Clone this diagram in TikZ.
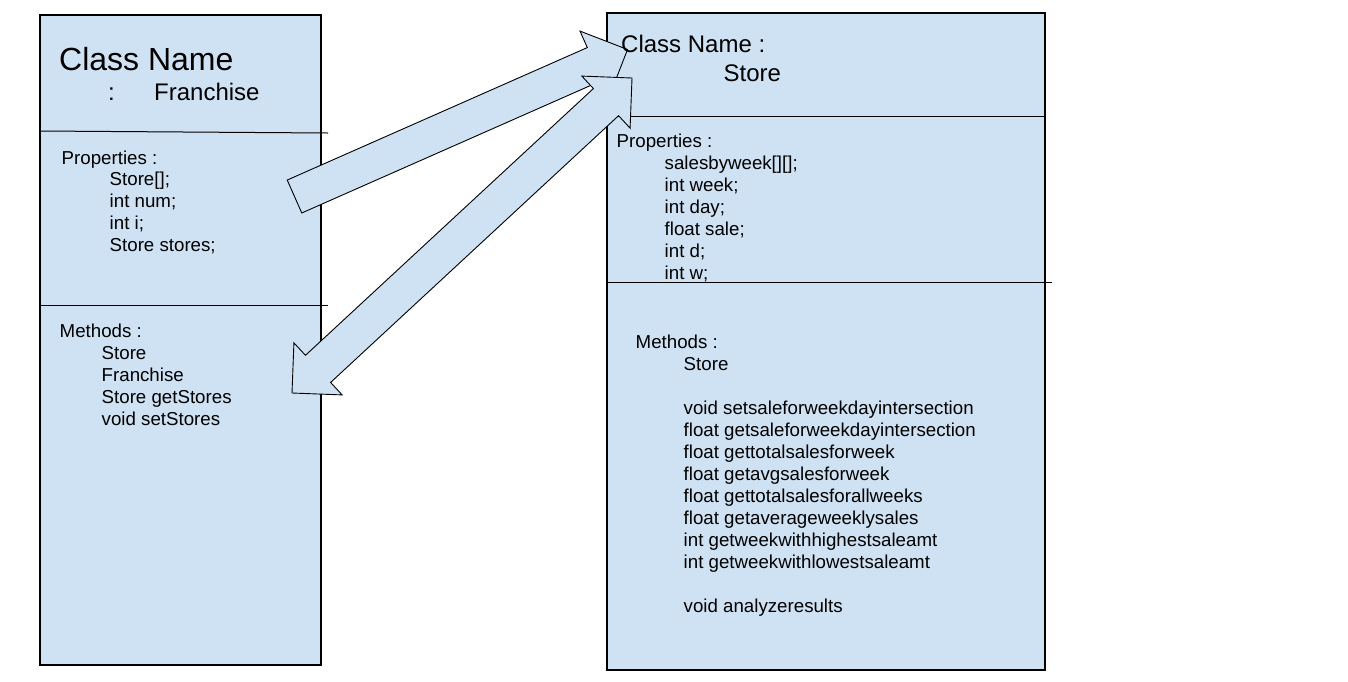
\documentclass[tikz,border=0pt]{standalone}
\usepackage{fontspec}
\setmainfont{Liberation Sans}
\usetikzlibrary{calc}
\definecolor{boxfill}{HTML}{CFE2F3}
\begin{document}
\begin{tikzpicture}[x=1pt,y=-1pt,
  umlbox/.style={draw=black, line width=1.2pt, fill=boxfill, inner sep=0pt, outer sep=0pt, anchor=north west},
  divider/.style={draw=black, line width=1pt},
  blockarrow/.style={draw=black, line width=0.9pt, fill=boxfill, line join=miter},
  bigtitle/.style={inner sep=0pt, anchor=base west, font=\fontsize{32}{38}\selectfont},
  subtitle/.style={inner sep=0pt, anchor=base west, font=\fontsize{24}{28}\selectfont},
  body/.style={inner sep=0pt, anchor=base west, font=\fontsize{18.7}{22}\selectfont}]
\useasboundingbox[fill=white] (0,0) rectangle (1348,681);

% class boxes
\node[umlbox, minimum width=281pt, minimum height=650pt] (fr) at (40,15) {};
\node[umlbox, minimum width=438pt, minimum height=657pt] (st) at (607,13) {};

% dividers
\draw[divider] (40,131) -- (328,133);
\draw[divider] (40,305) -- (328,305);
\draw[divider] (607,116) -- (1046,116);
\draw[divider] (607,282) -- (1052,282);

% single block arrow (Franchise properties -> Store)
\coordinate (a1t) at (294.5,196.5);
\coordinate (a1h) at (627.5,49.5);
\coordinate (a1n) at ($(a1h)!36pt!(a1t)$);
\draw[blockarrow]
  ($(a1t)!18pt!90:(a1h)$) -- ($(a1n)!18pt!90:(a1h)$) -- ($(a1n)!36pt!90:(a1h)$) --
  (a1h) --
  ($(a1n)!36pt!-90:(a1h)$) -- ($(a1n)!18pt!-90:(a1h)$) -- ($(a1t)!18pt!-90:(a1h)$) -- cycle;

% double block arrow (Store <-> Franchise methods)
\coordinate (a2a) at (292,393);
\coordinate (a2b) at (632,78);
\coordinate (a2na) at ($(a2a)!35.5pt!(a2b)$);
\coordinate (a2nb) at ($(a2b)!35.5pt!(a2a)$);
\draw[blockarrow]
  (a2b) --
  ($(a2nb)!35.5pt!90:(a2b)$) -- ($(a2nb)!18.5pt!90:(a2b)$) --
  ($(a2na)!18.5pt!90:(a2b)$) -- ($(a2na)!35.5pt!90:(a2b)$) --
  (a2a) --
  ($(a2na)!35.5pt!-90:(a2b)$) -- ($(a2na)!18.5pt!-90:(a2b)$) --
  ($(a2nb)!18.5pt!-90:(a2b)$) -- ($(a2nb)!35.5pt!-90:(a2b)$) -- cycle;

% Franchise texts
\node[bigtitle] (frt) at (59,70) {Class Name};
\node[subtitle] (frc) at (108,100) {:};
\node[subtitle] (frn) at (154,100) {Franchise};
\node[body] (frp) at (61.5,164) {Properties :};
\foreach \t [count=\i] in {{Store[];},{int num;},{int i;},{Store stores;}}
  \node[body] (frp\i) at (109.5,{164+21.8*\i}) {\t};
\node[body] (frm) at (59.5,337) {Methods :};
\foreach \t [count=\i] in {{Store},{Franchise},{Store getStores},{void setStores}}
  \node[body] (frm\i) at (101.5,{337+22*\i}) {\t};

% Store texts
\node[subtitle] (stt) at (621,52) {Class Name :};
\node[subtitle] (stn) at (723.5,81) {Store};
\node[body] (stp) at (616.5,147) {Properties :};
\foreach \t [count=\i] in {{salesbyweek[][];},{int week;},{int day;},{float sale;},{int d;},{int w;}}
  \node[body] (stp\i) at (664.5,{147+22*\i}) {\t};
\node[body] (stm) at (635.5,348) {Methods :};
\node[body] (stm0) at (683.5,370) {Store};
\foreach \t [count=\i] in {{void setsaleforweekdayintersection},{float getsaleforweekdayintersection},{float gettotalsalesforweek},{float getavgsalesforweek},{float gettotalsalesforallweeks},{float getaverageweeklysales},{int getweekwithhighestsaleamt},{int getweekwithlowestsaleamt}}
  \node[body] (stm\i) at (683.5,{392+22*\i}) {\t};
\node[body] (stm9) at (683.5,612) {void analyzeresults};
\end{tikzpicture}
\end{document}
